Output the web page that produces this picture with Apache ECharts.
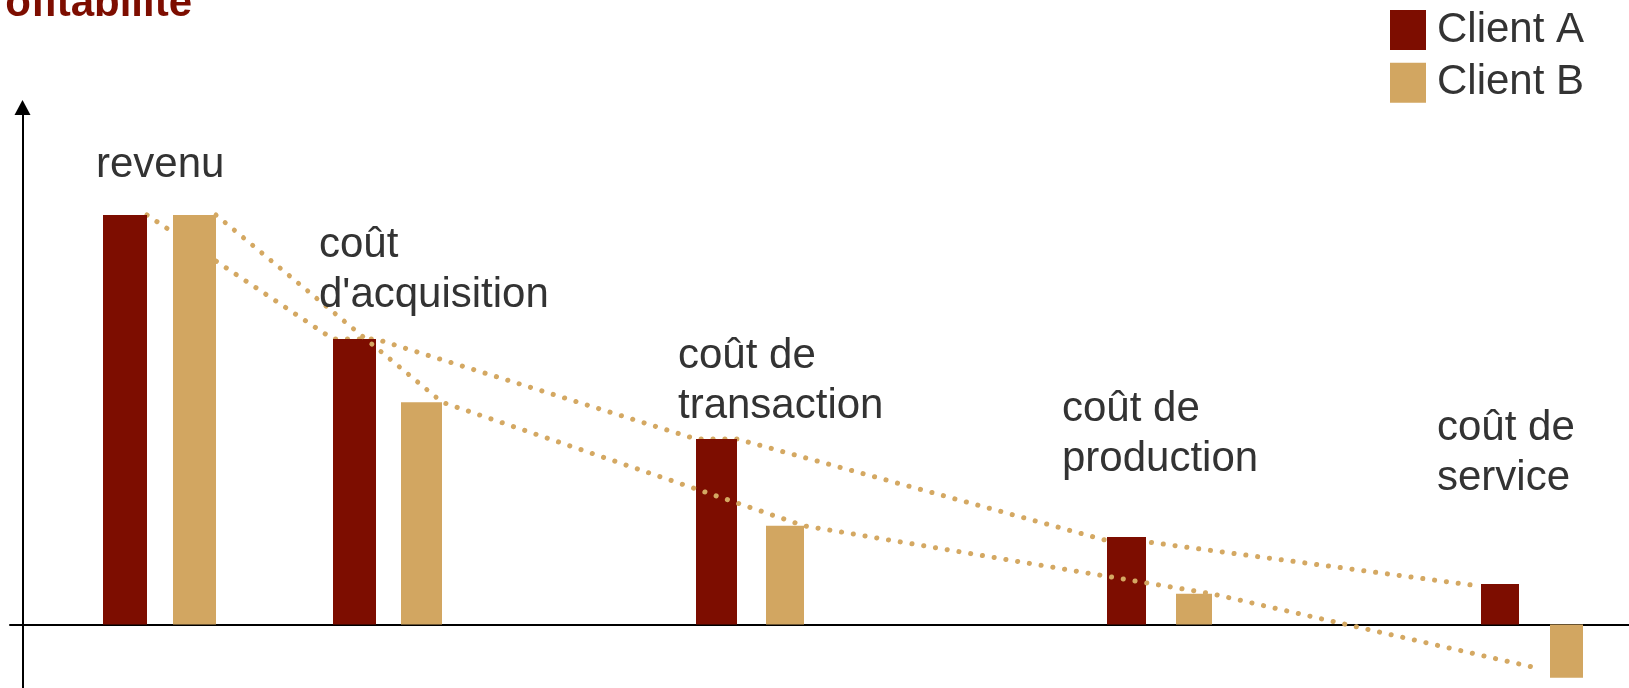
<!DOCTYPE html>
<html>
<head>
<meta charset="utf-8">
<script src="https://cdn.jsdelivr.net/npm/echarts@6/dist/echarts.min.js"></script>
<style>
html,body{margin:0;padding:0;background:#fff;}
#chart{width:1629px;height:688px;}
</style>
</head>
<body>
<div id="chart"></div>
<script>
// ---------------- DATA ----------------
const categories = ["revenu", "coût\nd'acquisition", "coût de\ntransaction", "coût de\nproduction", "coût de\nservice"];
const seriesNames = ["Client A", "Client B"];
const clientA = [100, 69.7, 45.3, 21.4, 9.9];
const clientB = [100, 54.3, 24.1, 7.5, -13.0];
// dotted trend lines
const trendA = [100, 69.7, 69.7, 45.3, 45.3, 20.5, 20.2, 9.4];
const trendB = [100, 54.3, 24.1, 7.5, -10.8];
const titleText = "Profitabilité";

// ---------------- LAYOUT (positions along the schematic x axis) ----------------
const LAYOUT = {
  centerA: [125, 354.5, 716.5, 1126.5, 1500],
  centerB: [194.5, 421.5, 785, 1194, 1566.5],
  widthA: [44, 43, 41, 39, 38],
  widthB: [43, 41, 38, 36, 33],
  trendAx: [147, 333, 376, 696, 737, 1107, 1146, 1479],
  trendBx: [216, 442, 804, 1212, 1540],
  labels: [[96, 140], [319, 220], [678, 331.5], [1062, 384.5], [1437, 403.5]]
};
const COLORS = { A: '#7D0D00', B: '#D2A661', dots: '#D4A862', text: '#333333' };
const FONT = '"Liberation Sans", Arial, sans-serif';

function barRender(widths) {
  return function (params, api) {
    const x = api.value(0), v = api.value(1);
    const p1 = api.coord([x, v]);
    const p0 = api.coord([x, 0]);
    const w = widths[params.dataIndex];
    const top = Math.min(p0[1], p1[1]);
    const h = Math.abs(p0[1] - p1[1]);
    return {
      type: 'rect',
      shape: { x: p1[0] - w / 2, y: top, width: w, height: h },
      style: { fill: api.visual('color') }
    };
  };
}

const chart = echarts.init(document.getElementById('chart'), null, { renderer: 'canvas' });

const graphics = [{
  type: 'text', x: -39, y: -16.5, z: 10,
  style: { text: titleText, font: 'bold 42px ' + FONT, fill: COLORS.A, lineHeight: 42, verticalAlign: 'top' }
}];
categories.forEach((c, i) => {
  graphics.push({
    type: 'text', x: LAYOUT.labels[i][0], y: LAYOUT.labels[i][1], z: 10,
    style: { text: c, font: '42px ' + FONT, fill: COLORS.text, lineHeight: 50, verticalAlign: 'top' }
  });
});

chart.setOption({
  animation: false,
  backgroundColor: '#ffffff',
  grid: { left: 10, right: 0, top: 107.5, bottom: 0, containLabel: false },
  legend: {
    orient: 'vertical', left: 1390, top: 6.5, padding: 0,
    itemWidth: 36, itemHeight: 40, itemGap: 5.7,
    selectedMode: false,
    data: [{ name: seriesNames[0], icon: 'rect' }, { name: seriesNames[1], icon: 'rect' }],
    textStyle: { fontSize: 42, fontFamily: FONT, color: COLORS.text, lineHeight: 40, padding: [7, 0, 0, 6] }
  },
  xAxis: {
    type: 'value', min: 10, max: 1629,
    axisLine: { show: true, onZero: true, lineStyle: { color: '#000', width: 2 } },
    axisTick: { show: false }, axisLabel: { show: false }, splitLine: { show: false }
  },
  yAxis: {
    type: 'value', min: -15.5, max: 126.25, offset: -12.5,
    axisLine: { show: true, onZero: false, symbol: ['none', 'triangle'], symbolSize: [16, 15],
      lineStyle: { color: '#000', width: 2 } },
    axisTick: { show: false }, axisLabel: { show: false }, splitLine: { show: false }
  },
  graphic: graphics,
  series: [
    {
      name: 'Tendance A', type: 'line', z: 1, silent: true, symbol: 'none',
      data: trendA.map((v, i) => [LAYOUT.trendAx[i], v]),
      lineStyle: { color: COLORS.dots, width: 5, type: [0.1, 11.8], cap: 'round' }
    },
    {
      name: seriesNames[0], type: 'custom', z: 2, silent: true,
      itemStyle: { color: COLORS.A },
      renderItem: barRender(LAYOUT.widthA),
      encode: { x: 0, y: 1 },
      data: clientA.map((v, i) => [LAYOUT.centerA[i], v])
    },
    {
      name: seriesNames[1], type: 'custom', z: 2, silent: true,
      itemStyle: { color: COLORS.B },
      renderItem: barRender(LAYOUT.widthB),
      encode: { x: 0, y: 1 },
      data: clientB.map((v, i) => [LAYOUT.centerB[i], v])
    },
    {
      name: 'Tendance B', type: 'line', z: 3, silent: true, symbol: 'none',
      data: trendB.map((v, i) => [LAYOUT.trendBx[i], v]),
      lineStyle: { color: COLORS.dots, width: 5, type: [0.1, 11.8], cap: 'round' }
    }
  ]
});
</script>
</body>
</html>
